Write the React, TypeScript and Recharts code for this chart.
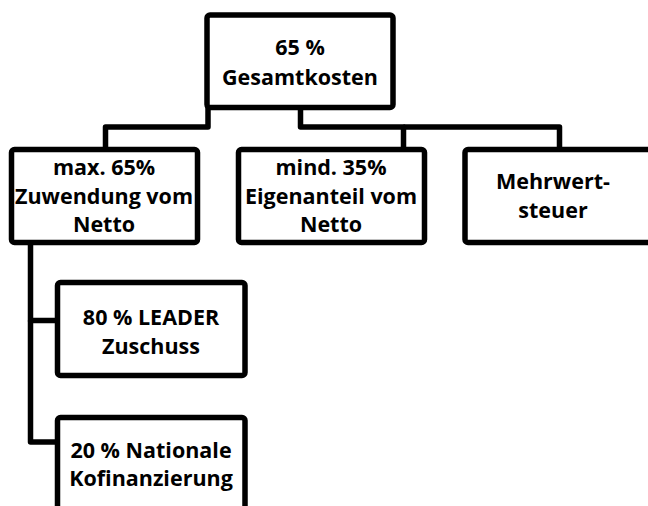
import React from 'react';
import { ScatterChart, Scatter, XAxis, YAxis } from 'recharts';

// ---- data ----
const nodeIds = ['total', 'grant', 'own', 'vat', 'leader', 'national'];
const nodeLabels: string[][] = [
  ['65 %', 'Gesamtkosten'],
  ['max. 65%', 'Zuwendung vom', 'Netto'],
  ['mind. 35%', 'Eigenanteil vom', 'Netto'],
  ['Mehrwert-', 'steuer'],
  ['80 % LEADER', 'Zuschuss'],
  ['20 % Nationale', 'Kofinanzierung'],
];
const nodeParents = [null, 'total', 'total', 'total', 'grant', 'grant'];

// ---- layout (chart units) ----
const W = 648;
const H = 506;
const boxLayout: Record<string, { x0: number; x1: number; y0: number; y1: number }> = {
  total: { x0: 207, x1: 393, y0: 15, y1: 107.5 },
  grant: { x0: 11.5, x1: 197.5, y0: 149.5, y1: 242.5 },
  own: { x0: 238.5, x1: 424.5, y0: 149.5, y1: 242.5 },
  vat: { x0: 465, x1: 720, y0: 149.5, y1: 242.5 },
  leader: { x0: 57.5, x1: 245, y0: 282.5, y1: 375.5 },
  national: { x0: 57.5, x1: 245, y0: 417.5, y1: 530 },
};
const textLayout: Record<string, { x: number; y: number; step: number }> = {
  total: { x: 300, y: 55, step: 30 },
  grant: { x: 104, y: 175, step: 28.5 },
  own: { x: 331, y: 175, step: 28.5 },
  vat: { x: 553, y: 189, step: 29 },
  leader: { x: 151, y: 325, step: 28.5 },
  national: { x: 151, y: 458, step: 27.5 },
};
const edgeRoutes: Record<string, number[][]> = {
  grant: [[208, 107], [208, 127], [105.5, 127], [105.5, 149.5]],
  own: [[300.5, 107], [300.5, 127], [403.5, 127], [403.5, 149.5]],
  vat: [[403.5, 127], [559.5, 127], [559.5, 149.5]],
  leader: [[30.5, 242.5], [30.5, 320.5], [57.5, 320.5]],
  national: [[30.5, 320.5], [30.5, 442], [57.5, 442]],
};

const FONT = '"Open Sans", "Liberation Sans", Arial, sans-serif';

const nodeData = nodeIds.map((id, i) => {
  const b = boxLayout[id];
  return { id, x: (b.x0 + b.x1) / 2, y: (b.y0 + b.y1) / 2, lines: nodeLabels[i], parent: nodeParents[i] };
});

const edgeData = nodeIds
  .filter((id) => edgeRoutes[id])
  .map((id) => ({ id, points: edgeRoutes[id].map(([x, y]) => ({ x, y })) }));

const BoxShape = (props: any) => {
  const { payload } = props;
  if (!payload) return <g />;
  const b = boxLayout[payload.id];
  const t = textLayout[payload.id];
  const dx = props.cx - payload.x;
  const dy = props.cy - payload.y;
  return (
    <g>
      <rect
        x={b.x0 + dx}
        y={b.y0 + dy}
        width={b.x1 - b.x0}
        height={b.y1 - b.y0}
        rx={3}
        ry={3}
        fill="#fff"
        stroke="#000"
        strokeWidth={5.5}
      />
      {payload.lines.map((ln: string, k: number) => (
        <text
          key={k}
          x={t.x + dx}
          y={t.y + dy + k * t.step}
          textAnchor="middle"
          fontFamily={FONT}
          fontWeight="bold"
          fontSize={21.5}
          fill="#000"
        >
          {ln}
        </text>
      ))}
    </g>
  );
};

const Empty = () => <g />;

export default function App() {
  return (
    <div style={{ position: 'absolute', left: 0, top: 0, width: W, height: H, background: '#fff' }}>
      <ScatterChart width={W} height={H} margin={{ top: 0, right: 0, bottom: 0, left: 0 }}>
        <XAxis type="number" dataKey="x" domain={[0, W]} hide allowDataOverflow />
        <YAxis type="number" dataKey="y" domain={[0, H]} reversed hide allowDataOverflow />
        {edgeData.map((e) => (
          <Scatter
            key={e.id}
            data={e.points}
            isAnimationActive={false}
            shape={<Empty />}
            line={{ stroke: '#000', strokeWidth: 5.5, strokeLinejoin: 'round' } as any}
            lineType="joint"
          />
        ))}
        <Scatter data={nodeData} isAnimationActive={false} shape={<BoxShape />} />
      </ScatterChart>
    </div>
  );
}
